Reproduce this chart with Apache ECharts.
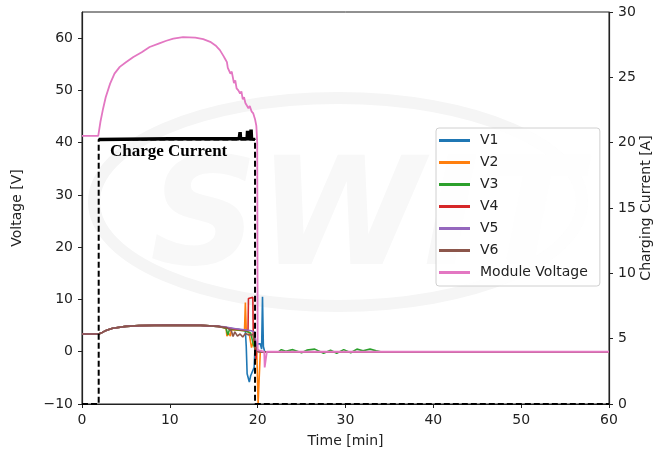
<!DOCTYPE html>
<html>
<head>
<meta charset="utf-8">
<script src="https://cdn.jsdelivr.net/npm/echarts@6/dist/echarts.min.js"></script>
<style>
  html, body { margin: 0; padding: 0; background: #fff; }
  #main { width: 656px; height: 454px; }
</style>
</head>
<body>
<div id="main"></div>
<script>
// cell voltages [time min, volts]
var base = [[0, 3.4], [1.9, 3.4], [2.3, 3.7], [2.8, 4.1], [3.5, 4.5], [5, 4.85], [6.5, 5.0], [10, 5.1], [13.5, 5.05], [15.5, 4.85]];
var v1 = base.concat([[16.8, 4.5], [17.8, 4.3], [18.6, 4.0], [18.7, 1], [18.8, -4.2], [18.95, -4.4], [19.05, -5.8], [19.2, -4.6], [19.4, -4.8], [19.6, -3], [19.7, 1], [19.9, 1.5], [20.3, 1.5], [20.45, 0.5], [20.55, 10.5], [20.65, 1], [20.8, 0], [60, 0]]);
var v2 = base.concat([[16.4, 4.5], [16.5, 3.0], [16.7, 3.5], [16.9, 3.0], [17.0, 4.2], [17.8, 4.1], [18.5, 4.0], [18.6, 9.4], [18.7, 4.2], [19.0, 3.8], [19.3, 0.8], [19.6, 2.5], [19.9, 0], [20.05, -10], [20.2, -10], [20.3, 0], [60, 0]]);
var v3 = base.concat([[16.4, 4.5], [16.6, 3.2], [16.8, 4.3], [17.5, 4.2], [18.5, 4.0], [19.2, 3.6], [19.5, 1.5], [19.7, 0.5], [20.2, 0], [22.4, 0], [22.7, 0.4], [23.2, 0.1], [24, 0.4], [25, -0.2], [25.6, 0.3], [26.5, 0.5], [27.5, -0.3], [28.3, 0.3], [29, -0.3], [29.8, 0.4], [30.6, -0.2], [31.3, 0.5], [32, 0.2], [32.8, 0.5], [33.5, 0.2], [34, 0], [60, 0]]);
var v4 = base.concat([[17.5, 4.3], [18.5, 4.1], [18.9, 4.0], [18.95, 10.2], [19.45, 10.4], [19.5, 3], [19.7, 1.5], [19.8, -1.5], [19.9, 0.5], [20.2, 0], [60, 0]]);
var v5 = base.concat([[16.5, 4.7], [17.5, 4.4], [18.5, 4.2], [19.3, 4.0], [19.6, 3.8], [19.8, 2], [20.0, 0], [60, 0]]);
var v6 = base.concat([[16.5, 4.6], [17.0, 4.0], [17.2, 2.9], [17.4, 3.8], [17.7, 3.0], [18.0, 3.4], [18.3, 2.8], [18.6, 3.5], [19.0, 3.2], [19.5, 3.3], [19.8, 1], [20.0, 0], [60, 0]]);

// module voltage [time min, volts]
var moduleV = [[0, 41.3], [1.85, 41.3], [2.1, 44], [2.4, 46.5], [2.7, 48.7], [3.2, 51.3], [3.7, 53.2], [4.3, 54.5], [5.0, 55.4], [5.85, 56.4], [6.8, 57.3], [7.7, 58.3], [8.8, 59.0], [9.6, 59.5], [10.4, 59.9], [11.5, 60.2], [12.9, 60.1], [13.8, 59.8], [14.6, 59.3], [15.2, 58.6], [15.7, 57.7], [16.1, 56.6], [16.3, 56.0], [16.5, 55.4], [16.6, 54.3], [16.75, 54.6], [16.9, 53.2], [17.05, 53.6], [17.3, 51.4], [17.45, 51.9], [17.6, 50.4], [17.8, 50.0], [18.0, 49.4], [18.15, 49.8], [18.3, 48.3], [18.45, 48.7], [18.6, 47.6], [18.8, 47.5], [18.95, 46.6], [19.1, 47.0], [19.3, 46.0], [19.5, 45.6], [19.7, 44.5], [19.85, 43.2], [19.95, 40], [20.0, 0.3], [20.2, 0], [20.75, 0], [20.8, -3], [21.0, -3], [21.05, 0], [60, 0]];

// charging current [time min, amps]
var current = [[0, 0], [1.9, 0], [1.9, 20.25], [19.7, 20.25], [19.7, 0], [60, 0]];
var plateau = [[1.9, 20.25], [10, 20.3], [17.9, 20.3], [18.0, 20.8], [18.05, 20.3], [18.8, 20.3], [18.85, 20.9], [18.9, 20.3], [19.2, 20.3], [19.25, 21.0], [19.3, 20.3], [19.7, 20.25]];

var cellNames = ['V1', 'V2', 'V3', 'V4', 'V5', 'V6'];
var cellData = [v1, v2, v3, v4, v5, v6];
var colors = ['#1f77b4', '#ff7f0e', '#2ca02c', '#d62728', '#9467bd', '#8c564b', '#e377c2'];
var voltTicks = [-10, 0, 10, 20, 30, 40, 50, 60];

var font = 'DejaVu Sans';
var minus = function (v) { return String(v).replace('-', '\u2212'); };

var myChart = echarts.init(document.getElementById('main'));

var series = [];
for (var i = 0; i < cellNames.length; i++) {
    series.push({
        name: cellNames[i],
        type: 'line',
        data: cellData[i],
        showSymbol: false,
        lineStyle: { width: 1.6 }
    });
}
series.push({
    name: 'Module Voltage',
    type: 'line',
    data: moduleV,
    showSymbol: false,
    lineStyle: { width: 1.8 }
});
series.push({
    name: 'Charging Current',
    type: 'line',
    yAxisIndex: 1,
    data: current,
    showSymbol: false,
    lineStyle: { width: 2, color: '#000', type: [6, 3] }
});
series.push({
    name: 'Current plateau',
    type: 'line',
    yAxisIndex: 1,
    data: plateau,
    showSymbol: false,
    lineStyle: { width: 3.5, color: '#000' }
});

option = {
    animation: false,
    color: colors,
    grid: {
        left: 82, right: 47, top: 12, bottom: 50,
        containLabel: false,
        outerBoundsMode: 'none',
        show: true, borderColor: '#222', borderWidth: 1
    },
    legend: {
        data: cellNames.concat(['Module Voltage']),
        orient: 'vertical',
        left: 436,
        top: 128,
        padding: [5, 12, 6, 3],
        itemGap: 7,
        itemWidth: 31,
        itemHeight: 3,
        icon: 'rect',
        backgroundColor: 'rgba(255,255,255,0.85)',
        borderColor: '#d0d0d0',
        borderWidth: 1,
        borderRadius: 3,
        textStyle: { fontFamily: font, fontSize: 14, color: '#222', lineHeight: 15, padding: [0, 0, 0, 5] }
    },
    graphic: [{
        // faint watermark
        type: 'ellipse',
        shape: { cx: 338, cy: 202, rx: 244, ry: 104 },
        style: { fill: 'none', stroke: '#f5f5f5', lineWidth: 12 },
        z: -10
    }, {
        type: 'text',
        left: 150,
        top: 150,
        style: {
            text: 'SWIT',
            font: 'italic bold 150px "DejaVu Sans"',
            fill: '#f8f8f8'
        },
        z: -10
    }, {
        type: 'text',
        left: 110,
        top: 143,
        style: {
            text: 'Charge Current',
            font: 'bold 17px "Liberation Serif"',
            fill: '#000'
        },
        z: 100
    }],
    xAxis: {
        type: 'value',
        min: 0, max: 60, interval: 10,
        name: 'Time [min]',
        nameLocation: 'middle',
        nameGap: 30,
        nameTextStyle: { fontFamily: font, fontSize: 14, color: '#222' },
        axisLine: { onZero: false, lineStyle: { color: '#222', width: 1.2 } },
        axisTick: { show: true, length: 4, lineStyle: { color: '#222' } },
        axisLabel: { fontFamily: font, fontSize: 14, color: '#222', margin: 9 },
        splitLine: { show: false }
    },
    yAxis: [{
        type: 'value',
        min: -10, max: 65, interval: 10,
        name: 'Voltage [V]',
        nameLocation: 'middle',
        nameRotate: 90,
        nameGap: 58,
        nameTextStyle: { fontFamily: font, fontSize: 14, color: '#222' },
        axisLine: { show: true, lineStyle: { color: '#222', width: 1.2 } },
        axisTick: { show: true, length: 4, customValues: voltTicks, lineStyle: { color: '#222' } },
        axisLabel: { fontFamily: font, fontSize: 14, color: '#222', margin: 9, customValues: voltTicks, formatter: minus },
        splitLine: { show: false }
    }, {
        type: 'value',
        min: 0, max: 30, interval: 5,
        position: 'right',
        name: 'Charging Current [A]',
        nameLocation: 'middle',
        nameRotate: 90,
        nameGap: 30,
        nameMoveOverlap: false,
        nameTextStyle: { fontFamily: font, fontSize: 14, color: '#222' },
        axisLine: { show: true, lineStyle: { color: '#222', width: 1.2 } },
        axisTick: { show: true, length: 4, lineStyle: { color: '#222' } },
        axisLabel: { fontFamily: font, fontSize: 14, color: '#222', margin: 9 },
        splitLine: { show: false }
    }],
    series: series
};
myChart.setOption(option);
</script>
</body>
</html>
